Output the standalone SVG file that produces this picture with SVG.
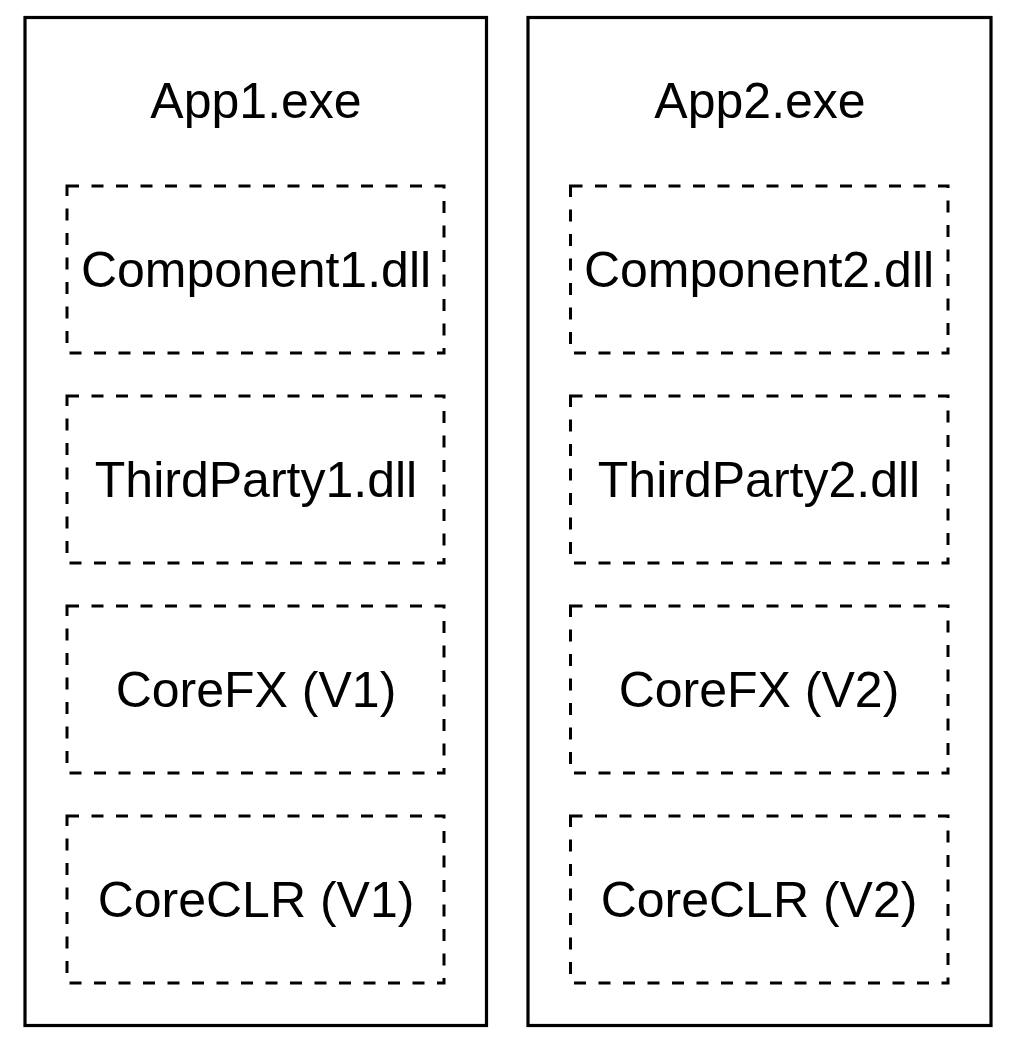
<svg xmlns="http://www.w3.org/2000/svg" width="1012" height="1054" viewBox="0 0 1012 1054">
<style>
.outer{fill:#fff;stroke:#000;stroke-width:3.2}
.inner{fill:none;stroke:#000;stroke-width:3;stroke-dasharray:12 12.5}
text{font-family:"Liberation Sans",Arial,Helvetica,sans-serif;font-size:50px;fill:#000;text-anchor:middle}
</style>
<rect width="1012" height="1054" fill="#fff"/>
<g id="app1">
<rect class="outer" x="25" y="17.5" width="461.5" height="1008"/>
<text x="256" y="118">App1.exe</text>
</g>
<g id="app2">
<rect class="outer" x="528" y="17.5" width="463" height="1008"/>
<text x="760" y="118">App2.exe</text>
</g>
<g id="component1"><rect class="inner" x="67" y="186" width="377" height="167"/><text x="256" y="287">Component1.dll</text></g>
<g id="thirdparty1"><rect class="inner" x="67" y="396" width="377" height="167"/><text x="256" y="497">ThirdParty1.dll</text></g>
<g id="corefx1"><rect class="inner" x="67" y="606" width="377" height="167"/><text x="256" y="707">CoreFX (V1)</text></g>
<g id="coreclr1"><rect class="inner" x="67" y="816" width="377" height="167"/><text x="256" y="917">CoreCLR (V1)</text></g>
<g id="component2"><rect class="inner" x="570.5" y="186" width="377.5" height="167"/><text x="759" y="287">Component2.dll</text></g>
<g id="thirdparty2"><rect class="inner" x="570.5" y="396" width="377.5" height="167"/><text x="759" y="497">ThirdParty2.dll</text></g>
<g id="corefx2"><rect class="inner" x="570.5" y="606" width="377.5" height="167"/><text x="759" y="707">CoreFX (V2)</text></g>
<g id="coreclr2"><rect class="inner" x="570.5" y="816" width="377.5" height="167"/><text x="759" y="917">CoreCLR (V2)</text></g>
<g id="connectors"/>
</svg>
